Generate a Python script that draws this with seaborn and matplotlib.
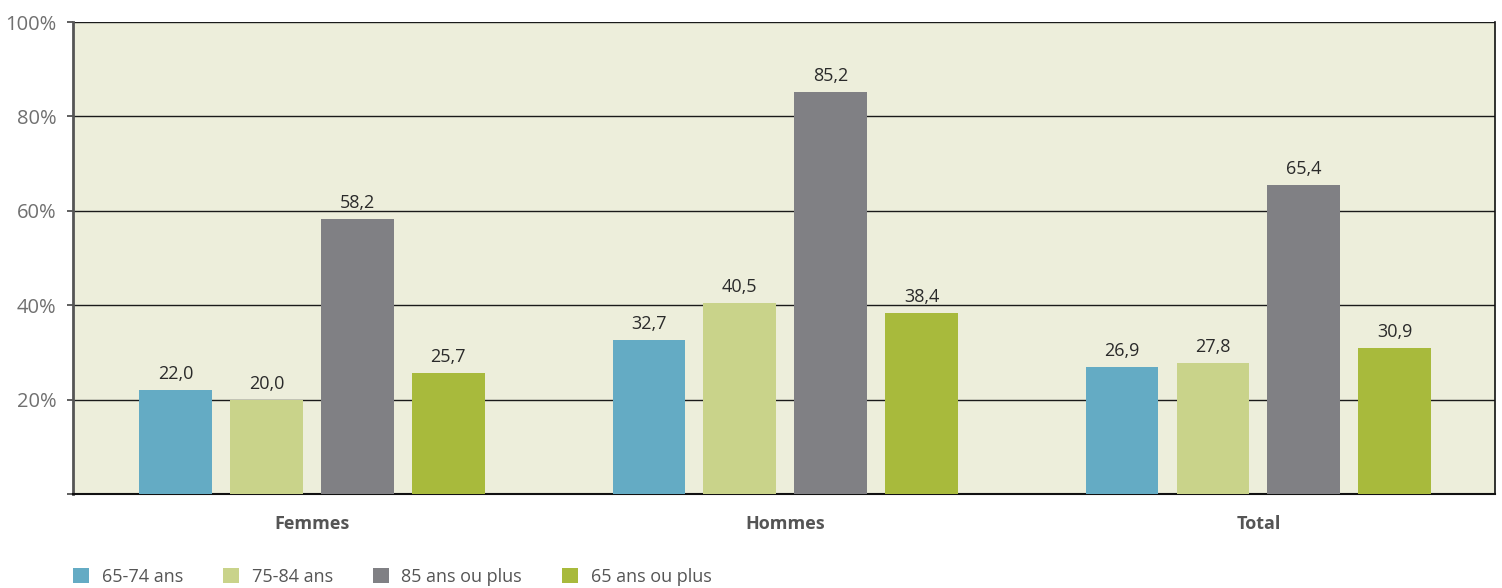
import matplotlib
matplotlib.use("Agg")
import matplotlib.pyplot as plt
import matplotlib.transforms as mtransforms
from matplotlib.patches import Patch
import seaborn as sns
import pandas as pd

categories = ["Femmes", "Hommes", "Total"]
age_groups = ["65-74 ans", "75-84 ans", "85 ans ou plus", "65 ans ou plus"]
values_65_74 = [22.0, 32.7, 26.9]
values_75_84 = [20.0, 40.5, 27.8]
values_85_plus = [58.2, 85.2, 65.4]
values_65_plus = [25.7, 38.4, 30.9]
colors = ["#64ABC4", "#C9D38A", "#808084", "#A8BA3C"]
yticks = [0, 20, 40, 60, 80, 100]
ytick_labels = ["", "20%", "40%", "60%", "80%", "100%"]

rows = []
for g, vals in zip(age_groups, [values_65_74, values_75_84, values_85_plus, values_65_plus]):
    for c, v in zip(categories, vals):
        rows.append({"cat": c, "age": g, "val": v})
df = pd.DataFrame(rows)

sns.set_theme(style="white")
plt.rcParams["font.family"] = ["Open Sans", "DejaVu Sans"]

fig = plt.figure(figsize=(15.02, 5.88), dpi=100)
ax = fig.add_axes([73 / 1502, 1 - 494 / 588, (1495 - 73) / 1502, (494 - 22) / 588])
ax.set_facecolor("#EDEEDB")

sns.barplot(data=df, x="cat", y="val", hue="age", order=categories, hue_order=age_groups,
            palette=colors, width=0.768, gap=0.2, saturation=1, ax=ax, legend=False,
            linewidth=0, edgecolor="none", zorder=3)

for cont in ax.containers:
    labels = [f"{b.get_height():.1f}".replace(".", ",") for b in cont]
    ax.bar_label(cont, labels=labels, padding=5, fontsize=13, color="#2a2a2a")

ax.set_xlim(-0.505, 2.5)
ax.set_ylim(0, 100)
ax.set_yticks(yticks)
ax.set_yticklabels(ytick_labels, fontsize=14.5, color="#707070")
offset = mtransforms.ScaledTranslation(0, 6 / 72, fig.dpi_scale_trans)
for lbl in ax.get_yticklabels():
    lbl.set_transform(lbl.get_transform() + offset)
ax.tick_params(axis="y", left=True, length=4, width=1.2, color="#444444", pad=8)
ax.tick_params(axis="x", bottom=False, pad=9)
for lbl in ax.get_xticklabels():
    lbl.set_fontweight("bold")
    lbl.set_fontsize(13)
    lbl.set_color("#555555")
ax.set_xlabel("")
ax.set_ylabel("")
ax.grid(axis="y", color="#1a1a1a", linewidth=1.0, zorder=0)
ax.set_axisbelow(True)

for side in ["left", "bottom", "right"]:
    ax.spines[side].set_visible(True)
ax.spines["top"].set_visible(False)
ax.spines["left"].set_color("#555555")
ax.spines["left"].set_linewidth(2)
ax.spines["bottom"].set_color("#111111")
ax.spines["bottom"].set_linewidth(1.5)
ax.spines["right"].set_color("#111111")
ax.spines["right"].set_linewidth(1.2)

handles = [Patch(facecolor=c, edgecolor="none", label=g) for c, g in zip(colors, age_groups)]
fig.legend(handles=handles, loc="lower left", bbox_to_anchor=(73 / 1502, 2 / 588), ncol=4,
           frameon=False, fontsize=13, labelcolor="#555555", handlelength=0.9,
           handleheight=0.9, handletextpad=0.7, columnspacing=2.2,
           borderaxespad=0, borderpad=0)

fig.savefig("out.png", dpi=100)
